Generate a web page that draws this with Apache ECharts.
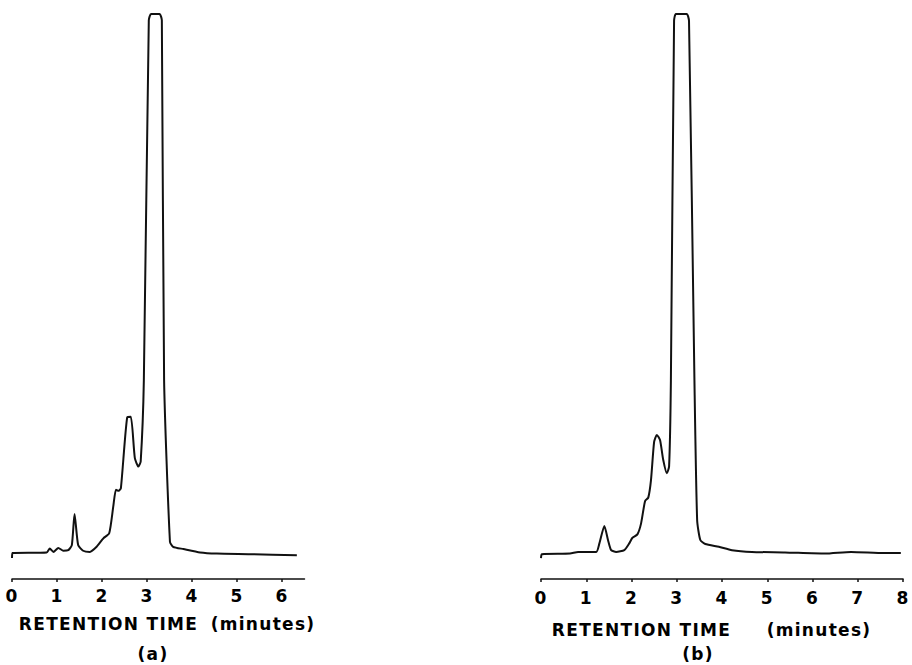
<!DOCTYPE html>
<html>
<head>
<meta charset="utf-8">
<script src="https://cdn.jsdelivr.net/npm/echarts@6/dist/echarts.min.js"></script>
<style>
  html, body { margin: 0; padding: 0; background: #fff; }
  #chart { width: 912px; height: 665px; }
  #chart svg text { letter-spacing: 1.3px; }
</style>
</head>
<body>
<div id="chart"></div>
<script>
// ---- Data ----
// Chromatogram (a): retention time (min) and detector signal (arbitrary units, 100 = pen limit)
const timeA   = [0, 0.01, 0.77, 0.84, 0.92, 1.03, 1.14, 1.25, 1.33, 1.39, 1.47, 1.58, 1.73, 1.88, 2.03, 2.16, 2.25, 2.31, 2.37, 2.42, 2.56, 2.64, 2.73, 2.81, 2.86, 2.93, 3.04, 3.09, 3.28, 3.33, 3.38, 3.51, 3.58, 3.81, 4.18, 4.55, 5.29, 6.33];
const signalA = [3.7, 4.6, 4.7, 5.4, 4.8, 5.5, 5.0, 5.1, 6.0, 11.5, 6.0, 5.0, 4.8, 5.7, 7.2, 8.1, 12.8, 15.8, 15.6, 16.1, 28.6, 28.7, 21.4, 19.9, 20.8, 35.2, 98.9, 100, 100, 98.9, 35.2, 6.6, 5.7, 5.3, 4.7, 4.5, 4.4, 4.2];

// Chromatogram (b)
const timeB   = [0, 0.02, 0.64, 0.82, 1.22, 1.29, 1.40, 1.48, 1.55, 1.66, 1.84, 1.95, 2.02, 2.13, 2.21, 2.30, 2.37, 2.43, 2.50, 2.56, 2.63, 2.70, 2.78, 2.83, 2.87, 2.94, 2.98, 3.22, 3.27, 3.39, 3.45, 3.52, 3.63, 3.93, 4.22, 4.66, 5.39, 6.27, 6.85, 7.58, 7.95];
const signalB = [3.7, 4.4, 4.5, 4.8, 4.8, 6.3, 9.4, 6.9, 5.1, 4.8, 5.1, 6.3, 7.3, 7.9, 9.8, 13.8, 14.4, 17.5, 24.3, 25.5, 24.6, 21.1, 18.7, 19.9, 35.2, 98.8, 100, 100, 98.8, 35.2, 10.4, 6.9, 6.2, 5.7, 5.1, 4.8, 4.7, 4.5, 4.8, 4.6, 4.6];

// Axis settings
const xMaxA = 6.5;
const xMaxB = 8;
const axisTitle = 'RETENTION TIME';
const axisUnit = '(minutes)';
const panelLabels = ['(a)', '(b)'];

const pairs = (xs, ys) => xs.map((x, i) => [x, ys[i]]);

const chart = echarts.init(document.getElementById('chart'), null, { renderer: 'svg' });

const FONT = 'DejaVu Sans';
const xAxisCommon = {
  type: 'value',
  min: 0,
  interval: 1,
  splitLine: { show: false },
  axisLine: { show: true, lineStyle: { color: '#111', width: 1.5 } },
  axisTick: { show: true, length: 3, inside: false, lineStyle: { color: '#111', width: 1.5 } },
  axisLabel: { color: '#000', fontSize: 17, fontWeight: 'bold', fontFamily: FONT, margin: 8, showMaxLabel: false }
};
const yAxisCommon = { type: 'value', min: 0, max: 100, show: false };

const textStyle = (t, x, y) => ({
  type: 'text', x: x, y: y,
  style: { text: t, textAlign: 'center', textVerticalAlign: 'middle', fill: '#000',
           fontSize: 17, fontWeight: 'bold', fontFamily: FONT }
});

chart.setOption({
  backgroundColor: '#fff',
  animation: false,
  textStyle: { fontFamily: FONT },
  grid: [
    { left: 12, top: 14, width: 292.5, height: 565 },
    { left: 541, top: 14, width: 365, height: 565 }
  ],
  xAxis: [
    Object.assign({}, xAxisCommon, { gridIndex: 0, max: xMaxA }),
    Object.assign({}, xAxisCommon, { gridIndex: 1, max: xMaxB,
      axisLabel: Object.assign({}, xAxisCommon.axisLabel, { showMaxLabel: true, margin: 10 }) })
  ],
  yAxis: [
    Object.assign({}, yAxisCommon, { gridIndex: 0 }),
    Object.assign({}, yAxisCommon, { gridIndex: 1 })
  ],
  series: [
    { type: 'line', xAxisIndex: 0, yAxisIndex: 0, data: pairs(timeA, signalA), showSymbol: false,
      smooth: 0.2, lineStyle: { color: '#111', width: 2 }, clip: false },
    { type: 'line', xAxisIndex: 1, yAxisIndex: 1, data: pairs(timeB, signalB), showSymbol: false,
      smooth: 0.2, lineStyle: { color: '#111', width: 2 }, clip: false }
  ],
  graphic: [
    textStyle(axisTitle, 108.5, 624),
    textStyle(axisUnit, 263, 624),
    textStyle(panelLabels[0], 153, 654),
    textStyle(axisTitle, 641.5, 630),
    textStyle(axisUnit, 819, 630),
    textStyle(panelLabels[1], 698, 654)
  ]
});
</script>
</body>
</html>
